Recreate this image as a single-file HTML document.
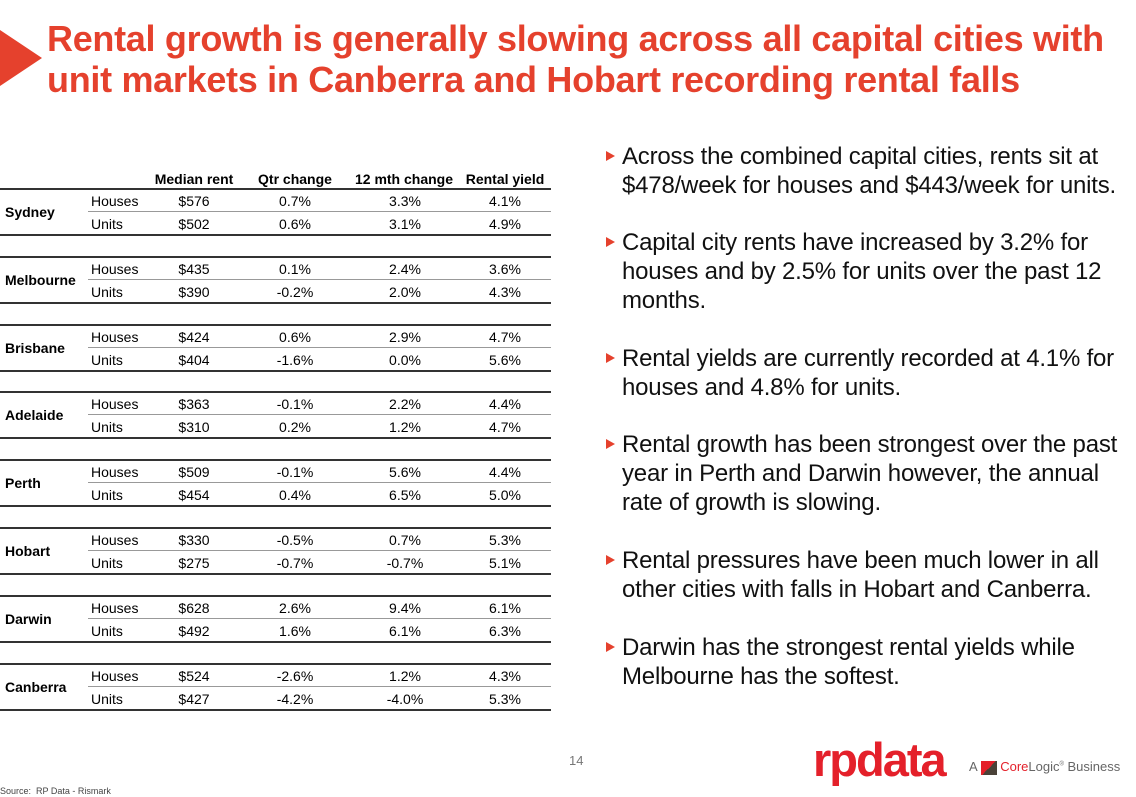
<!DOCTYPE html>
<html><head><meta charset="utf-8"><style>
body{margin:0;width:1136px;height:797px;background:#fff;position:relative;overflow:hidden;font-family:"Liberation Sans",sans-serif;}
.abs{position:absolute;}
.title{left:47px;top:18px;color:#e5412d;font-weight:bold;font-size:36px;line-height:41px;white-space:nowrap;letter-spacing:-0.3px}
.hdr{font-weight:bold;font-size:14px;top:171px;transform:translateX(-50%);white-space:nowrap}
.cell{font-size:14px;transform:translate(-50%,-50%);white-space:nowrap}
.lbl{font-size:14px;transform:translateY(-50%);white-space:nowrap}
.city{font-size:14px;font-weight:bold;transform:translateY(-50%);white-space:nowrap}
.line{height:2px;background:#333;left:0;width:551px}
.sub{height:1px;background:#999;left:88px;width:463px}
.bul{left:622px;font-size:24px;line-height:29px;color:#111;width:512px;letter-spacing:-0.2px}
.tri{left:606px;width:0;height:0;border-left:9px solid #e5412d;border-top:5px solid transparent;border-bottom:5px solid transparent}
</style></head><body>
<div class="abs" style="left:0;top:30px;width:0;height:0;border-left:42px solid #e5412d;border-top:28px solid transparent;border-bottom:28px solid transparent"></div>
<div class="abs title">Rental growth is generally slowing across all capital cities with<br>unit markets in Canberra and Hobart recording rental falls</div>

<div class="abs hdr" style="left:194px">Median rent</div>
<div class="abs hdr" style="left:295px">Qtr change</div>
<div class="abs hdr" style="left:404px">12 mth change</div>
<div class="abs hdr" style="left:505px">Rental yield</div>
<div id="tbl"></div>

<div class="abs tri" style="top:151px"></div>
<div class="abs bul" style="top:142px">Across the combined capital cities, rents sit at $478/week for houses and $443/week for units.</div>
<div class="abs tri" style="top:237px"></div>
<div class="abs bul" style="top:228px">Capital city rents have increased by 3.2% for houses and by 2.5% for units over the past 12 months.</div>
<div class="abs tri" style="top:353px"></div>
<div class="abs bul" style="top:344px">Rental yields are currently recorded at 4.1% for houses and 4.8% for units.</div>
<div class="abs tri" style="top:439px"></div>
<div class="abs bul" style="top:430px">Rental growth has been strongest over the past year in Perth and Darwin however, the annual rate of growth is slowing.</div>
<div class="abs tri" style="top:555px"></div>
<div class="abs bul" style="top:546px">Rental pressures have been much lower in all other cities with falls in Hobart and Canberra.</div>
<div class="abs tri" style="top:642px"></div>
<div class="abs bul" style="top:633px">Darwin has the strongest rental yields while Melbourne has the softest.</div>

<div class="abs" style="left:569px;top:753px;font-size:13px;color:#777">14</div>
<div class="abs" style="left:0;top:786px;font-size:9px;color:#444">Source:&nbsp; RP Data - Rismark</div>
<div class="abs" style="left:813px;top:732px;font-size:47px;font-weight:bold;color:#e4202a;letter-spacing:-2px">rpdata</div>
<div class="abs" style="left:969px;top:759px;font-size:13px;color:#666;white-space:nowrap">A <span style="display:inline-block;width:16px;height:14px;vertical-align:middle;background:linear-gradient(135deg,#e4202a 50%,#4a4238 50%)"></span> <span style="color:#e4202a">Core</span>Logic<sup style="font-size:6px">®</sup> Business</div>

<script>
const cities=["Sydney","Melbourne","Brisbane","Adelaide","Perth","Hobart","Darwin","Canberra"];
const rentH=["$576","$435","$424","$363","$509","$330","$628","$524"];
const rentU=["$502","$390","$404","$310","$454","$275","$492","$427"];
const qtrH=["0.7%","0.1%","0.6%","-0.1%","-0.1%","-0.5%","2.6%","-2.6%"];
const qtrU=["0.6%","-0.2%","-1.6%","0.2%","0.4%","-0.7%","1.6%","-4.2%"];
const yrH=["3.3%","2.4%","2.9%","2.2%","5.6%","0.7%","9.4%","1.2%"];
const yrU=["3.1%","2.0%","0.0%","1.2%","6.5%","-0.7%","6.1%","-4.0%"];
const ylH=["4.1%","3.6%","4.7%","4.4%","4.4%","5.3%","6.1%","4.3%"];
const ylU=["4.9%","4.3%","5.6%","4.7%","5.0%","5.1%","6.3%","5.3%"];
const tbl=document.getElementById('tbl');
const colX=[194,295,405,505];
function add(cls,style,text,name){const d=document.createElement('div');d.className='abs '+cls;d.style.cssText=style;if(text!==undefined)d.textContent=text;


tbl.appendChild(d);}
cities.forEach((c,i)=>{
  const top=188+i*67.8;
  add('line','top:'+top+'px','', 'row-top-rule');
  add('sub','top:'+(top+23)+'px','', 'row-divider');
  add('line','top:'+(top+46)+'px','', 'row-bottom-rule');
  add('city','left:5px;top:'+(top+24)+'px',c,'city-label');
  const ys=[top+13,top+36];
  const rows=[[rentH,qtrH,yrH,ylH],[rentU,qtrU,yrU,ylU]];
  ['Houses','Units'].forEach((t,r)=>{
    add('lbl','left:91px;top:'+ys[r]+'px',t,'type-label');
    rows[r].forEach((arr,k)=>add('cell','left:'+colX[k]+'px;top:'+ys[r]+'px',arr[i],'table-cell'));
  });
});
</script>
</body></html>
